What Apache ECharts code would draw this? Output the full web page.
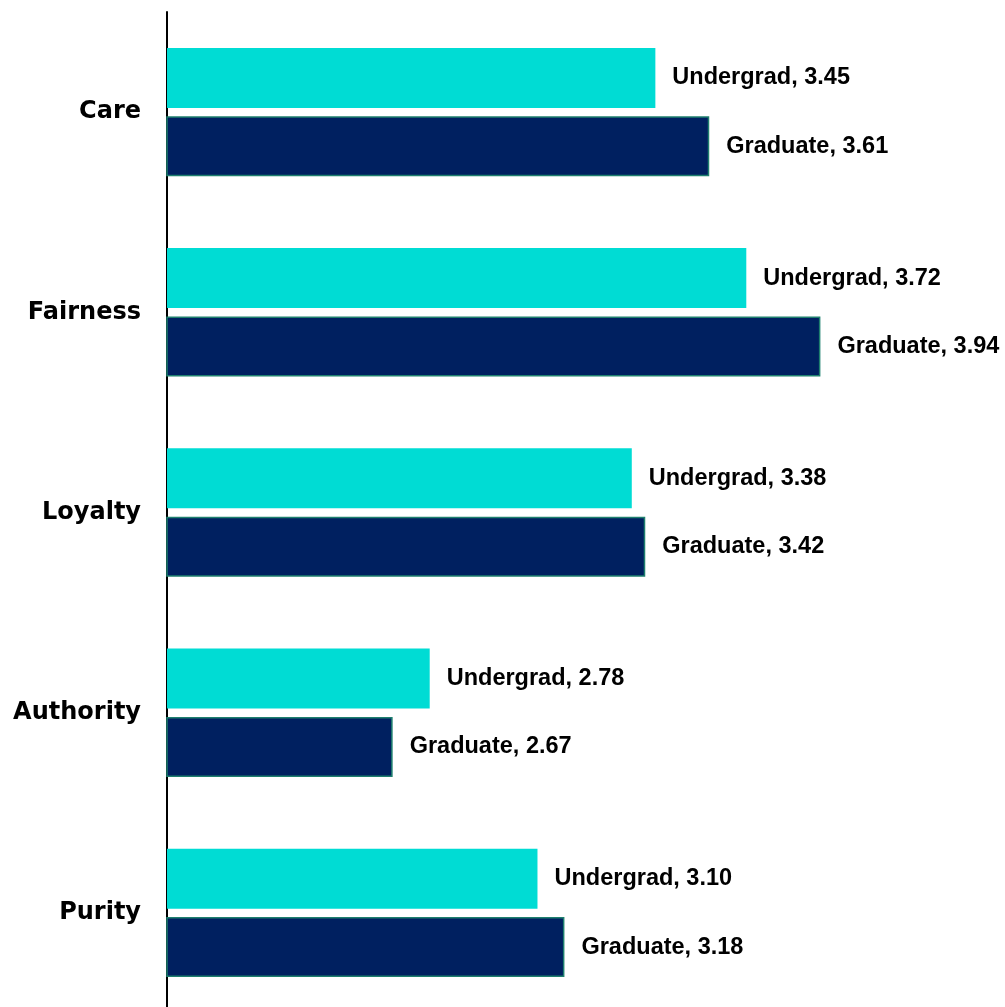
<!DOCTYPE html>
<html><head><meta charset="utf-8">
<script src="https://cdn.jsdelivr.net/npm/echarts@6/dist/echarts.min.js"></script>
<style>html,body{margin:0;padding:0;background:#fff;overflow:hidden;width:1005px;height:1007px}#c{width:1030px;height:1030px}</style>
</head><body><div id="c"></div>
<script>
const categories = ['Care', 'Fairness', 'Loyalty', 'Authority', 'Purity'];
const undergrad = [3.45, 3.72, 3.38, 2.78, 3.10];
const graduate = [3.61, 3.94, 3.42, 2.67, 3.18];
const seriesNames = ['Undergrad', 'Graduate'];

const chart = echarts.init(document.getElementById('c'));
const lbl = {
  show: true, position: 'right', distance: 17,
  fontFamily: 'Liberation Sans, Arial', fontWeight: 'bold', fontSize: 23.5, color: '#000',
  formatter: p => p.seriesName + ', ' + p.value.toFixed(2)
};
chart.setOption({
  animation: false,
  grid: { left: 167, top: 12, width: 842, height: 1001, containLabel: false },
  xAxis: { type: 'value', min: 2, max: 4.5, show: false },
  yAxis: {
    type: 'category', data: categories, inverse: true,
    axisLine: { lineStyle: { color: '#000', width: 2 } },
    axisTick: { show: false },
    axisLabel: { fontFamily: 'DejaVu Sans', fontWeight: 'bold', fontSize: 24, color: '#000', margin: 26, padding: [4, 0, 0, 0] }
  },
  series: [
    { name: seriesNames[0], type: 'bar', data: undergrad, barWidth: 60, barGap: '14%',
      itemStyle: { color: '#00DCD4' }, label: lbl },
    { name: seriesNames[1], type: 'bar', data: graduate, barWidth: 60, barGap: '14%',
      itemStyle: { color: '#002060', borderColor: '#1E7F6E', borderWidth: 1.5 }, label: lbl }
  ]
});
</script></body></html>
